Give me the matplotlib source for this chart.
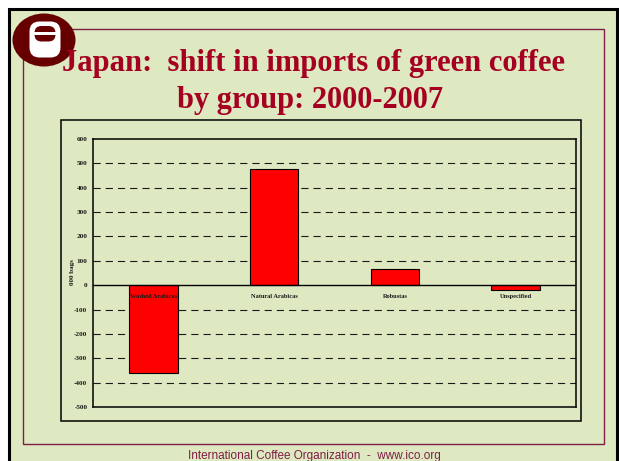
import matplotlib
matplotlib.use("Agg")
import matplotlib.pyplot as plt
from matplotlib.patches import Rectangle, Ellipse, FancyBboxPatch

# Data: change in Japanese imports of green coffee, 2000-2007 ('000 bags)
categories = ["Washed Arabicas", "Natural Arabicas", "Robustas", "Unspecified"]
changes = [-361, 476, 66, -18]
yticks = [-500, -400, -300, -200, -100, 0, 100, 200, 300, 400, 500, 600]

BG = "#DEE9C1"
TITLE_RED = "#A50021"
MAROON = "#660000"
FRAME = "#7E1E46"

W, H = 619, 461
fig = plt.figure(figsize=(W / 100, H / 100), dpi=100, facecolor="white")

# Overlay in pixel coordinates for the slide decoration
deco = fig.add_axes([0, 0, 1, 1], zorder=0)
deco.set_xlim(0, W)
deco.set_ylim(H, 0)
deco.axis("off")

deco.add_patch(Rectangle((9, 9), 608, 470, facecolor=BG, edgecolor="black", lw=2.2))
deco.add_patch(Rectangle((23, 29), 581, 415, facecolor="none", edgecolor=FRAME, lw=1.0))
deco.add_patch(Rectangle((61, 120), 520, 301, facecolor="none", edgecolor="black", lw=1.1))

# Logo
deco.add_patch(Ellipse((44, 40), 63, 53, facecolor=MAROON, edgecolor="none"))
deco.add_patch(FancyBboxPatch((33, 25), 24, 29, boxstyle="round,pad=3.5,rounding_size=10",
                              facecolor="white", edgecolor="none"))
deco.add_patch(FancyBboxPatch((36, 27.5), 18, 12.5, boxstyle="round,pad=1.5,rounding_size=7",
                              facecolor=MAROON, edgecolor="none"))
deco.add_patch(Rectangle((33, 32.5), 24, 2.2, facecolor="white", edgecolor="none"))

# Titles
deco.text(314, 63, "Japan:  shift in imports of green coffee", ha="center", va="center",
          fontsize=22, fontweight="bold", color=TITLE_RED, family="Liberation Serif")
deco.text(310, 100, "by group: 2000-2007", ha="center", va="center",
          fontsize=22, fontweight="bold", color=TITLE_RED, family="Liberation Serif")

# Footer
deco.text(314, 456, "International Coffee Organization  -  www.ico.org", ha="center", va="center",
          fontsize=8.5, color=FRAME, family="Liberation Sans")

# Chart
ax = fig.add_axes([93 / W, 1 - 407 / H, 483 / W, 268 / H], zorder=1)
ax.set_facecolor("none")
x = [i + 0.5 for i in range(len(categories))]
ax.set_xlim(0, len(categories))
ax.set_ylim(-500, 600)

for yv in yticks:
    if yv in (0, -500, 600):
        continue
    ax.axhline(yv, color="#1a1a1a", lw=0.8, ls=(0, (6.5, 4.5)), zorder=1)
ax.axhline(0, color="black", lw=1.0, zorder=3)

ax.bar(x, changes, width=0.4, color="#FF0000", edgecolor="black", lw=0.8, zorder=2)

ax.set_yticks(yticks)
ax.set_yticklabels([str(v) for v in yticks], fontsize=5.2, fontweight="bold",
                   family="Liberation Serif", color="#1a1a1a")
ax.tick_params(axis="y", length=0, pad=4)
ax.set_xticks([])
for xi, name in zip(x, categories):
    ax.text(xi, -45, name, ha="center", va="center", fontsize=4.6, fontweight="bold",
            family="Liberation Serif", color="#1a1a1a", zorder=4)

for side in ax.spines.values():
    side.set_color("black")
    side.set_linewidth(1.1)

fig.text(72.5 / W, 1 - 272 / H, "000 bags", rotation=90, ha="center", va="center",
         fontsize=5, fontweight="bold", family="Liberation Serif", color="#1a1a1a")

fig.savefig("out.png", dpi=100, facecolor="white")
